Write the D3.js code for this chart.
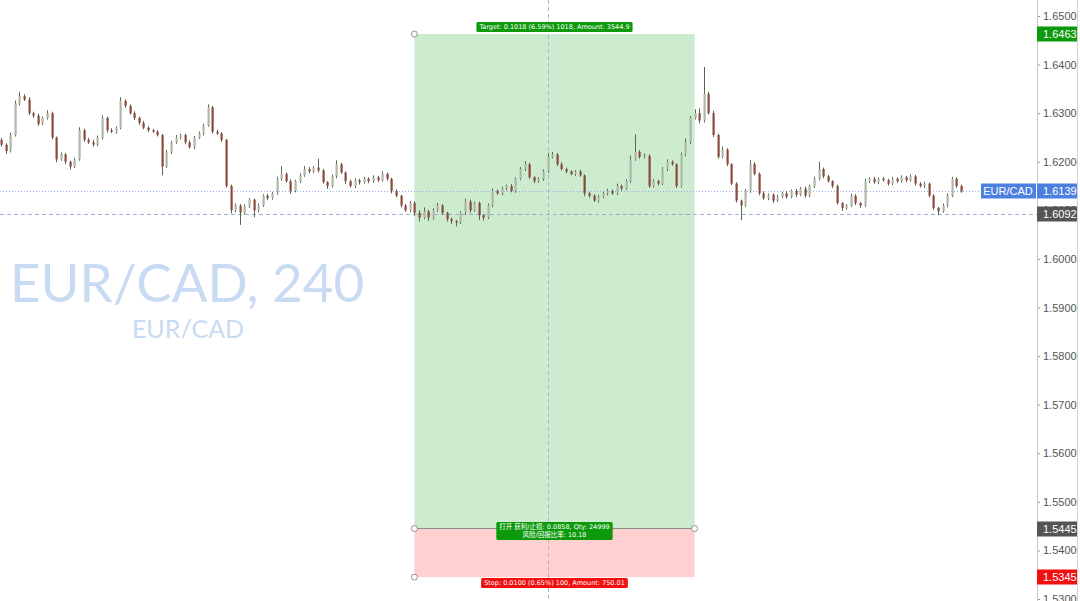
<!DOCTYPE html>
<html>
<head>
<meta charset="utf-8">
<script src="https://cdn.jsdelivr.net/npm/d3@7/dist/d3.min.js"></script>
<style>
  body { margin: 0; background: #fff; }
  svg { display: block; }
</style>
</head>
<body>
<script>
// EUR/CAD 240 closes, oldest first (open = previous close)
var closes = [
  1.6235, 1.6222, 1.6255, 1.6320, 1.6335, 1.6328, 1.6300, 1.6295, 1.6278, 1.6290,
  1.6300, 1.6250, 1.6205, 1.6215, 1.6200, 1.6190, 1.6205, 1.6265, 1.6245, 1.6240,
  1.6235, 1.6250, 1.6290, 1.6265, 1.6262, 1.6270, 1.6325, 1.6315, 1.6300, 1.6290,
  1.6280, 1.6270, 1.6265, 1.6262, 1.6255, 1.6190, 1.6220, 1.6240, 1.6250, 1.6255,
  1.6240, 1.6230, 1.6250, 1.6258, 1.6275, 1.6312, 1.6262, 1.6258, 1.6245, 1.6150,
  1.6100, 1.6110, 1.6095, 1.6108, 1.6122, 1.6100, 1.6110, 1.6130, 1.6125, 1.6135,
  1.6165, 1.6175, 1.6160, 1.6140, 1.6160, 1.6172, 1.6185, 1.6180, 1.6188, 1.6182,
  1.6158, 1.6150, 1.6170, 1.6195, 1.6178, 1.6160, 1.6150, 1.6162, 1.6158, 1.6165,
  1.6160, 1.6168, 1.6162, 1.6175, 1.6165, 1.6140, 1.6130, 1.6110, 1.6100, 1.6115,
  1.6095, 1.6085, 1.6098, 1.6085, 1.6100, 1.6110, 1.6095, 1.6082, 1.6078, 1.6075,
  1.6095, 1.6118, 1.6100, 1.6115, 1.6090, 1.6085, 1.6110, 1.6140, 1.6135, 1.6145,
  1.6150, 1.6140, 1.6165, 1.6185, 1.6195, 1.6168, 1.6160, 1.6165, 1.6180, 1.6210,
  1.6215, 1.6195, 1.6185, 1.6180, 1.6175, 1.6180, 1.6172, 1.6135, 1.6130, 1.6120,
  1.6128, 1.6135, 1.6140, 1.6135, 1.6150, 1.6145, 1.6160, 1.6205, 1.6220, 1.6210,
  1.6212, 1.6150, 1.6160, 1.6155, 1.6185, 1.6200, 1.6195, 1.6150, 1.6215, 1.6240,
  1.6290, 1.6300, 1.6285, 1.6340, 1.6300, 1.6255, 1.6210, 1.6225, 1.6195, 1.6155,
  1.6120, 1.6110, 1.6140, 1.6195, 1.6175, 1.6135, 1.6125, 1.6132, 1.6120, 1.6128,
  1.6135, 1.6128, 1.6140, 1.6132, 1.6145, 1.6130, 1.6150, 1.6165, 1.6185, 1.6170,
  1.6160, 1.6150, 1.6115, 1.6105, 1.6110, 1.6130, 1.6115, 1.6110, 1.6160, 1.6165,
  1.6158, 1.6165, 1.6162, 1.6155, 1.6165, 1.6160, 1.6168, 1.6162, 1.6170, 1.6155,
  1.6150, 1.6155, 1.6130, 1.6105, 1.6098, 1.6110, 1.6130, 1.6165, 1.6150, 1.6139
];
var firstOpen = 1.6245;

// wick length in pips above / below the body
var wickHi = [
  4, 3, 5, 6, 9, 4, 5, 3, 4, 3,
  6, 3, 2, 4, 3, 2, 3, 6, 3, 4,
  5, 4, 5, 3, 4, 3, 8, 4, 3, 4,
  3, 4, 3, 2, 3, 2, 4, 3, 5, 3,
  3, 4, 3, 4, 3, 6, 3, 4, 3, 2,
  3, 4, 3, 4, 3, 2, 4, 3, 4, 3,
  4, 16, 3, 4, 3, 4, 6, 4, 3, 18,
  3, 2, 4, 8, 3, 2, 3, 4, 3, 4,
  3, 4, 3, 5, 3, 2, 3, 2, 3, 4,
  4, 5, 8, 3, 4, 5, 3, 2, 3, 2,
  3, 6, 4, 3, 3, 2, 4, 5, 3, 4,
  3, 4, 3, 4, 6, 3, 2, 3, 4, 8,
  5, 3, 4, 3, 2, 3, 3, 2, 3, 3,
  4, 3, 4, 3, 5, 3, 4, 8, 36, 4,
  5, 3, 4, 3, 4, 5, 3, 2, 4, 8,
  4, 8, 10, 55, 4, 5, 3, 6, 3, 2,
  3, 2, 4, 8, 4, 3, 4, 3, 3, 4,
  3, 4, 3, 4, 3, 4, 3, 4, 15, 3,
  3, 2, 3, 2, 3, 4, 3, 2, 5, 3,
  4, 3, 4, 3, 4, 3, 4, 3, 4, 3,
  3, 4, 2, 3, 2, 4, 5, 4, 3, 3
];
var wickLo = [
  4, 6, 3, 3, 4, 3, 4, 5, 4, 3,
  3, 4, 6, 3, 5, 6, 3, 3, 4, 3,
  4, 3, 4, 5, 3, 4, 3, 4, 3, 4,
  4, 3, 4, 3, 3, 18, 3, 4, 3, 4,
  4, 3, 4, 3, 4, 3, 4, 3, 4, 3,
  6, 4, 25, 4, 3, 14, 4, 3, 4, 3,
  3, 4, 3, 6, 3, 4, 3, 4, 3, 4,
  3, 6, 3, 4, 3, 6, 3, 4, 5, 3,
  4, 3, 4, 3, 4, 5, 3, 4, 3, 4,
  6, 8, 3, 7, 4, 3, 4, 5, 6, 8,
  3, 4, 5, 3, 10, 6, 3, 4, 3, 4,
  4, 3, 4, 3, 4, 3, 4, 3, 4, 3,
  3, 4, 3, 4, 3, 4, 3, 6, 4, 3,
  4, 3, 4, 3, 4, 5, 3, 4, 3, 4,
  3, 4, 3, 4, 3, 4, 3, 4, 3, 4,
  4, 3, 6, 4, 3, 4, 4, 3, 4, 3,
  4, 30, 3, 4, 3, 4, 3, 4, 5, 3,
  3, 4, 3, 5, 3, 4, 3, 4, 3, 4,
  3, 4, 3, 6, 4, 3, 4, 5, 3, 4,
  3, 4, 3, 4, 3, 4, 3, 4, 3, 4,
  3, 4, 3, 4, 8, 3, 4, 3, 4, 3
];

var yTicks = [1.53, 1.54, 1.55, 1.56, 1.57, 1.58, 1.59, 1.60, 1.61, 1.62, 1.63, 1.64, 1.65];

// long position tool
var posStart = 90, posEnd = 151, crossIdx = 119;
var targetPrice = 1.6463, entryPrice = 1.5445, stopPrice = 1.5345;
var lastPrice = 1.6139, markPrice = 1.6092;
var targetText = "Target: 0.1018 (6.59%) 1018, Amount: 3544.9";
var entryText = ["打开 获利/止损: 0.0858, Qty: 24999", "风险/回报比率: 10.18"];
var stopText = "Stop: 0.0100 (0.65%) 100, Amount: 750.01";

var W = 1080, H = 601, axisX = 1037;

var candles = closes.map(function(c, i) {
  var o = i == 0 ? firstOpen : closes[i - 1];
  return {
    i: i, o: o, c: c,
    h: Math.max(o, c) + wickHi[i] * 0.0001,
    l: Math.min(o, c) - wickLo[i] * 0.0001
  };
});

var svg = d3.select("body").append("svg")
  .attr("width", W).attr("height", H);

var x = d3.scaleLinear().domain([0, closes.length - 1]).range([1, 961]);
var y = d3.scaleLinear().domain([1.53, 1.65]).range([599, 16]);

// watermark
svg.append("text")
  .attr("x", 10).attr("y", 302)
  .style("font-family", "Lato, 'Open Sans', sans-serif")
  .style("font-size", "53px")
  .style("fill", "#c9dbf3")
  .text("EUR/CAD, 240");
svg.append("text")
  .attr("x", 188).attr("y", 338)
  .attr("text-anchor", "middle")
  .style("font-family", "Lato, 'Open Sans', sans-serif")
  .style("font-size", "25px")
  .style("fill", "#c9dbf3")
  .text("EUR/CAD");

// position boxes
var xL = x(posStart), xR = x(posEnd);
svg.append("rect")
  .attr("x", xL).attr("y", y(targetPrice))
  .attr("width", xR - xL).attr("height", y(entryPrice) - y(targetPrice))
  .style("fill", "#cdebcf");
svg.append("rect")
  .attr("x", xL).attr("y", y(entryPrice))
  .attr("width", xR - xL).attr("height", y(stopPrice) - y(entryPrice))
  .style("fill", "#ffd0d0");
svg.append("line")
  .attr("x1", xL).attr("x2", xR)
  .attr("y1", y(entryPrice)).attr("y2", y(entryPrice))
  .style("stroke", "#8a8a8a").style("stroke-width", 1);

// price lines
svg.append("line")
  .attr("x1", 0).attr("x2", axisX)
  .attr("y1", Math.round(y(lastPrice)) + 0.5).attr("y2", Math.round(y(lastPrice)) + 0.5)
  .style("stroke", "#8fb0ea").style("stroke-dasharray", "1,2");
svg.append("line")
  .attr("x1", 0).attr("x2", axisX)
  .attr("y1", Math.round(y(markPrice)) + 0.5).attr("y2", Math.round(y(markPrice)) + 0.5)
  .style("stroke", "#98b0cc").style("stroke-dasharray", "4,3");

// crosshair
svg.append("line")
  .attr("x1", Math.round(x(crossIdx)) + 0.5).attr("x2", Math.round(x(crossIdx)) + 0.5)
  .attr("y1", 0).attr("y2", H)
  .style("stroke", "#9dbbd6").style("stroke-dasharray", "4,3");

// candles
var g = svg.append("g");
g.selectAll("line.wick")
  .data(candles).enter().append("line")
  .attr("class", "wick")
  .attr("x1", function(d) { return Math.round(x(d.i)) + 0.5; })
  .attr("x2", function(d) { return Math.round(x(d.i)) + 0.5; })
  .attr("y1", function(d) { return y(d.h); })
  .attr("y2", function(d) { return y(d.l); })
  .style("stroke", "#5c6651").style("stroke-width", 1);
g.selectAll("rect.body")
  .data(candles).enter().append("rect")
  .attr("class", "body")
  .attr("x", function(d) { return Math.round(x(d.i)) - 0.5; })
  .attr("y", function(d) { return y(Math.max(d.o, d.c)); })
  .attr("width", 2.2)
  .attr("height", function(d) { return Math.max(1, Math.abs(y(d.o) - y(d.c))); })
  .style("fill", function(d) { return d.c >= d.o ? "#aeb8a6" : "#8a4a3a"; });

// handles
var handles = [[xL, y(targetPrice)], [xL, y(entryPrice)], [xR, y(entryPrice)], [xL, y(stopPrice)]];
svg.selectAll("circle.handle")
  .data(handles).enter().append("circle")
  .attr("class", "handle")
  .attr("cx", function(d) { return d[0]; })
  .attr("cy", function(d) { return d[1]; })
  .attr("r", 3)
  .style("fill", "#fff").style("stroke", "#777").style("stroke-width", 0.8);

// labels on the position tool
function label(cx, cy, lines, color) {
  var lh = 8, w = 0;
  var gl = svg.append("g");
  var r = gl.append("rect");
  var t = gl.selectAll("text").data(lines).enter().append("text")
    .attr("x", cx)
    .attr("y", function(d, i) { return cy - (lines.length - 1) * lh / 2 + i * lh + 2.4; })
    .attr("text-anchor", "middle")
    .style("font-family", "'DejaVu Sans', 'Noto Sans CJK SC', sans-serif")
    .style("font-size", "6.5px")
    .style("fill", "#fff")
    .text(function(d) { return d; });
  t.each(function() { w = Math.max(w, this.getComputedTextLength()); });
  var h = lines.length * lh + 2;
  r.attr("x", cx - w / 2 - 3).attr("y", cy - h / 2)
    .attr("width", w + 6).attr("height", h)
    .attr("rx", 1.5)
    .style("fill", color);
}
var midX = (xL + xR) / 2;
label(midX, 27, [targetText], "#0c9a0c");
label(midX, 531, entryText, "#0c9a0c");
label(midX, 583, [stopText], "#f01010");

// right price axis
svg.append("rect")
  .attr("x", axisX).attr("y", 0).attr("width", W - axisX).attr("height", H)
  .style("fill", "#fff");
var axis = svg.append("g")
  .attr("transform", "translate(" + axisX + ",0)")
  .call(d3.axisRight(y).tickValues(yTicks).tickFormat(d3.format(".4f")).tickSize(3).tickPadding(3));
axis.select(".domain").remove();
axis.selectAll(".tick line").style("stroke", "#999");
axis.selectAll(".tick text")
  .style("font-family", "'Liberation Sans', Arial, sans-serif")
  .style("font-size", "11px")
  .style("fill", "#555");
svg.append("line")
  .attr("x1", axisX + 0.5).attr("x2", axisX + 0.5).attr("y1", 0).attr("y2", H)
  .style("stroke", "#c8c8c8");
svg.append("line")
  .attr("x1", W - 2.5).attr("x2", W - 2.5).attr("y1", 0).attr("y2", H)
  .style("stroke", "#d4d4d4");

// price badges
var badges = [
  { p: targetPrice, c: "#0c9a0c" },
  { p: lastPrice, c: "#4d7fe0" },
  { p: markPrice, c: "#555555" },
  { p: entryPrice, c: "#555555" },
  { p: stopPrice, c: "#f01010" }
];
var bg = svg.selectAll("g.badge").data(badges).enter().append("g")
  .attr("class", "badge")
  .attr("transform", function(d) { return "translate(" + axisX + "," + Math.round(y(d.p)) + ")"; });
bg.append("rect")
  .attr("x", 0).attr("y", -7.5).attr("width", 40).attr("height", 15)
  .style("fill", function(d) { return d.c; });
bg.append("text")
  .attr("x", 6).attr("y", 4)
  .style("font-family", "'Liberation Sans', Arial, sans-serif")
  .style("font-size", "11px")
  .style("fill", "#fff")
  .text(function(d) { return d.p.toFixed(4); });

// symbol tag next to last price
var ty = Math.round(y(lastPrice));
svg.append("rect")
  .attr("x", 981).attr("y", ty - 7.5).attr("width", 55).attr("height", 15)
  .style("fill", "#4d7fe0");
svg.append("text")
  .attr("x", 1008).attr("y", ty + 4)
  .attr("text-anchor", "middle")
  .style("font-family", "'Liberation Sans', Arial, sans-serif")
  .style("font-size", "11px")
  .style("fill", "#fff")
  .text("EUR/CAD");
</script>
</body>
</html>
